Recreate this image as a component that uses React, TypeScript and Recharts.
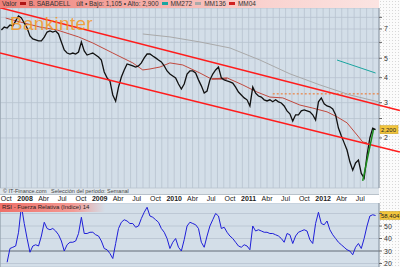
import React from 'react';
import { ComposedChart, Line, XAxis, YAxis, CartesianGrid, ReferenceLine } from 'recharts';

// weekly bars, first bar on 7 Sep 2007; one point every 2 weeks
const FIRST_BAR = Date.UTC(2007, 8, 7);
const WEEK = 7 * 24 * 3600 * 1000;

const closes = [
  6.92, 7.16, 7.08, 7.33, 7.25, 7.68, 8.13, 7.95, 7.5, 7.08,
  6.46, 6.24, 6.17, 6.1, 6.1, 6.38, 6.76, 6.84, 6.76, 6.84,
  6.61, 6.03, 5.5, 5.31, 5.25, 5.31, 5.25, 5.37, 6.03, 5.44,
  5.19, 5.25, 5.31, 5.19, 5.07, 4.9, 4.27, 3.99, 3.85, 3.28,
  3.05, 3.59, 4.03, 4.37, 4.68, 4.63, 4.58, 4.52, 4.58, 4.74,
  5.02, 5.25, 5.25, 5.13, 5.02, 4.9, 4.79, 4.58, 4.32, 4.17,
  4.08, 3.99, 3.72, 3.51, 3.72, 4.17, 4.32, 4.32, 4.22, 3.9,
  3.64, 3.35, 3.43, 3.9, 4.17, 4.37, 4.52, 3.99, 3.9, 3.85,
  3.81, 3.76, 3.59, 3.39, 3.28, 3.17, 3.1, 2.89, 3.59, 3.35,
  3.24, 3.2, 3.1, 3.06, 3.1, 3.03, 3.1, 3.03, 2.99, 2.89,
  2.73, 2.64, 2.43, 2.61, 2.61, 2.73, 2.76, 2.73, 2.7, 2.61,
  2.46, 3.03, 3.17, 2.96, 2.89, 2.86, 2.79, 2.61, 2.24, 2.05,
  1.89, 1.74, 1.52, 1.38, 1.5, 1.55, 1.33, 1.26, 1.64, 2.0,
  2.24, 2.2,
];

const rsi14 = [
  null, null, 21, 32, 33, 34, 45, 66, 52, 40,
  29, 34, 35, 34, 42, 53, 48, 47, 48, 46,
  43, 38, 30, 35, 37, 37, 38, 44, 57, 44,
  44, 45, 45, 43, 42, 38, 32, 31, 28, 24,
  36, 48, 53, 55, 54, 52, 52, 49, 50, 56,
  61, 65, 58, 57, 55, 53, 48, 45, 40, 32,
  37, 40, 33, 30, 39, 50, 53, 52, 51, 48,
  37, 33, 42, 50, 55, 60, 58, 48, 49, 45,
  42, 40, 37, 34, 33, 35, 34, 31, 50, 46,
  47, 46, 45, 45, 44, 44, 43, 42, 40, 37,
  44, 43, 36, 42, 45, 46, 47, 46, 39, 36,
  52, 61, 52, 51, 54, 47, 43, 40, 37, 35,
  33, 31, 30, 27, 33, 36, 32, 40, 50, 58,
  59, 58.4,
];

// moving averages, read at a few weeks
const mmRedWeeks = [3, 13, 27, 39, 54, 64, 78, 92, 99, 104, 111, 118, 127, 139, 147, 158, 169, 179, 188, 197, 209, 218, 228, 235, 242, 249, 253, 256];
const mmRedValues = [7.94, 7.59, 7.16, 6.92, 6.39, 5.96, 5.31, 4.74, 4.37, 4.42, 4.52, 4.74, 4.63, 4.22, 3.94, 3.99, 3.68, 3.39, 3.2, 3.17, 2.92, 2.82, 2.7, 2.55, 2.38, 2.07, 1.91, 1.89];
const mmGrayWeeks = [99, 118, 139, 160, 181, 202, 223, 244, 264];
const mmGrayValues = [6.61, 6.39, 6.03, 5.63, 4.9, 4.18, 3.68, 3.28, 3.03];
const mmTealWeeks = [235, 262];
const mmTealValues = [4.9, 4.22];

// drawn trend lines: [week, price]
const upperChannel = [[-1, 8.95], [279, 2.74]];
const lowerChannel = [[-1, 5.31], [279, 1.7]];
const greenTrend = [[253, 1.22], [260.5, 2.2]];
const dottedLevel = [[190, 3.32], [264.4, 3.32]];
const shortLevel = [[147.5, 3.94], [158, 3.94]];

const priceTicks = [2, 3, 4, 5, 7];
const priceGrid = [2, 2.5, 3, 4, 5, 6, 7, 8];
const rsiTicks = [20, 30, 40, 50];
const rsiGrid = [20, 30, 40, 50, 60];
const quarterNames: Record<number, string> = { 3: 'Abr', 6: 'Jul', 9: 'Oct' };

const X_DOMAIN = [-0.98, 264.4];
const FONT = '"Liberation Sans", Arial, sans-serif';

const weekOf = (y: number, m: number) => (Date.UTC(y, m, 1) - FIRST_BAR) / WEEK;
const months: { w: number; y: number; m: number }[] = [];
for (let y = 2007; y <= 2012; y++) {
  for (let m = 0; m < 12; m++) {
    const w = weekOf(y, m);
    if (w >= X_DOMAIN[0] && w <= X_DOMAIN[1]) months.push({ w, y, m });
  }
}
const monthWeeks = months.map((d) => d.w);
const yearWeeks = months.filter((d) => d.m === 0).map((d) => d.w);

const rowMap = new Map<number, any>();
const put = (w: number, key: string, v: number) => {
  const r = rowMap.get(w) ?? { w };
  r[key] = v;
  rowMap.set(w, r);
};
closes.forEach((v, i) => put(i * 2, 'close', v));
mmRedWeeks.forEach((w, i) => put(w, 'mmRed', mmRedValues[i]));
mmGrayWeeks.forEach((w, i) => put(w, 'mmGray', mmGrayValues[i]));
mmTealWeeks.forEach((w, i) => put(w, 'mmTeal', mmTealValues[i]));
const priceRows = [...rowMap.values()].sort((a, b) => a.w - b.w);
const rsiRows = rsi14.map((v, i) => ({ w: i * 2, rsi: v }));

const seg = (p: number[][]) => p.map(([x, y]) => ({ x, y }));

const XTick = ({ x, payload }: any) => {
  const d = months.find((mm) => Math.abs(mm.w - payload.value) < 1e-6);
  if (!d || d.m % 3 !== 0) return <g />;
  const isYear = d.m === 0;
  return (
    <text x={x} y={201} textAnchor="middle" fontSize={7} fontFamily={FONT}
      fontWeight={isYear ? 'bold' : 'normal'} fill="#222">
      {isYear ? d.y : quarterNames[d.m]}
    </text>
  );
};

const makeYTick = (shown: number[]) => ({ x, y, payload }: any) =>
  shown.includes(payload.value) ? (
    <text x={x} y={y} dy={2.5} fontSize={7} fontFamily={FONT} fill="#333">{payload.value}</text>
  ) : <g />;

const valueBox = (text: string, w: number) => ({ viewBox }: any) => {
  if (!viewBox) return null;
  const x0 = viewBox.x + viewBox.width;
  return (
    <g>
      <rect x={x0 + 1} y={viewBox.y - 4} width={w} height={8} fill="#f2c53d" stroke="#c89a10" strokeWidth={0.5} />
      <text x={x0 + 2} y={viewBox.y + 2.2} fontSize={6} fontFamily={FONT} fill="#222">{text}</text>
    </g>
  );
};

const swatch = (color: string) => (
  <span style={{ display: 'inline-block', width: 6, height: 3, background: color, margin: '0 3px 1px 3px', verticalAlign: 'middle' }} />
);

export default function App() {
  const dots = {
    backgroundColor: '#fbfbfb',
    backgroundImage: 'radial-gradient(#d8d8d8 0.6px, transparent 0.7px)',
    backgroundSize: '3px 3px',
  };
  return (
    <div style={{ position: 'absolute', left: 0, top: 0, width: 400, height: 267, overflow: 'hidden', background: '#fff', fontFamily: FONT }}>
      <div style={{ position: 'absolute', left: 379, top: 0, width: 21, height: 267, ...dots }} />
      <div style={{ position: 'absolute', left: 0, top: 188, width: 379, height: 6, background: '#dfe6ec' }} />
      <div style={{ position: 'absolute', left: 0, top: 194, width: 379, height: 9, background: '#fff', borderTop: '1px solid #b9c2ca' }} />

      <div style={{ position: 'absolute', left: 0, top: 0 }}>
        <ComposedChart width={400} height={203} data={priceRows} margin={{ top: 8, right: 0, bottom: 0, left: 0 }}>
          <CartesianGrid xAxisId="m" yAxisId="p" fill="#d3dee8" fillOpacity={1} stroke="#b7c3cf" strokeWidth={0.8} />
          <CartesianGrid xAxisId="yr" yAxisId="p" horizontal={false} stroke="#86929e" strokeWidth={0.9} />
          <XAxis xAxisId="m" dataKey="w" type="number" domain={X_DOMAIN} allowDataOverflow ticks={monthWeeks}
            interval={0} tick={<XTick />} tickLine={false} axisLine={false} height={15} />
          <XAxis xAxisId="yr" dataKey="w" type="number" domain={X_DOMAIN} allowDataOverflow ticks={yearWeeks}
            interval={0} tick={false} tickLine={false} axisLine={false} height={0} />
          <YAxis yAxisId="p" orientation="right" scale="log" domain={[1.125, 8.91]} allowDataOverflow
            ticks={priceGrid} interval={0} width={21} tick={makeYTick(priceTicks)} tickSize={3} tickMargin={2}
            tickLine={{ stroke: '#666' }} axisLine={false} />

          <ReferenceLine xAxisId="m" yAxisId="p" segment={seg(shortLevel)} stroke="#a01818" strokeWidth={1} />
          <ReferenceLine xAxisId="m" yAxisId="p" segment={seg(dottedLevel)} stroke="#f07020" strokeWidth={1} strokeDasharray="2 2" />

          <Line xAxisId="m" yAxisId="p" dataKey="mmGray" stroke="#a9a9a9" strokeWidth={1} dot={false} connectNulls isAnimationActive={false} />
          <Line xAxisId="m" yAxisId="p" dataKey="mmTeal" stroke="#1aa5a0" strokeWidth={1} dot={false} connectNulls isAnimationActive={false} />
          <Line xAxisId="m" yAxisId="p" dataKey="mmRed" stroke="#c0392b" strokeWidth={0.9} dot={false} connectNulls isAnimationActive={false} />
          <Line xAxisId="m" yAxisId="p" dataKey="close" stroke="#111" strokeWidth={1.3} dot={false} connectNulls isAnimationActive={false} />

          <ReferenceLine xAxisId="m" yAxisId="p" segment={seg(upperChannel)} stroke="#ff1c1c" strokeWidth={1.5} ifOverflow="visible" />
          <ReferenceLine xAxisId="m" yAxisId="p" segment={seg(lowerChannel)} stroke="#ff1c1c" strokeWidth={1.5} ifOverflow="visible" />
          <ReferenceLine xAxisId="m" yAxisId="p" segment={seg(greenTrend)} stroke="#1b8c1b" strokeWidth={1.5} />
          <ReferenceLine xAxisId="m" yAxisId="p" y={closes[closes.length - 1]} stroke="none"
            label={valueBox('2,200', 18)} />
        </ComposedChart>
      </div>

      <div style={{ position: 'absolute', left: 0, top: 203 }}>
        <ComposedChart width={400} height={64} data={rsiRows} margin={{ top: 0, right: 0, bottom: 0, left: 0 }}>
          <CartesianGrid xAxisId="m" yAxisId="r" fill="#d3dee8" fillOpacity={1} stroke="#b7c3cf" strokeWidth={0.8} />
          <CartesianGrid xAxisId="yr" yAxisId="r" horizontal={false} stroke="#86929e" strokeWidth={0.9} />
          <XAxis xAxisId="m" dataKey="w" type="number" domain={X_DOMAIN} allowDataOverflow ticks={monthWeeks}
            interval={0} tick={false} tickLine={false} axisLine={false} height={0} />
          <XAxis xAxisId="yr" dataKey="w" type="number" domain={X_DOMAIN} allowDataOverflow ticks={yearWeeks}
            interval={0} tick={false} tickLine={false} axisLine={false} height={0} />
          <YAxis yAxisId="r" orientation="right" domain={[17.2, 68.4]} allowDataOverflow ticks={rsiGrid} interval={0}
            width={21} tick={makeYTick(rsiTicks)} tickSize={3} tickMargin={2} tickLine={{ stroke: '#666' }} axisLine={false} />
          <ReferenceLine xAxisId="m" yAxisId="r" y={30} stroke="#6f7780" strokeWidth={1} />
          <Line xAxisId="m" yAxisId="r" dataKey="rsi" stroke="#1f1fd8" strokeWidth={1} dot={false} isAnimationActive={false} />
          <ReferenceLine xAxisId="m" yAxisId="r" y={rsi14[rsi14.length - 1]} stroke="none" label={valueBox('58,404', 20)} />
        </ComposedChart>
      </div>

      <div style={{ position: 'absolute', left: 0, top: 0, width: 379, height: 8, background: 'linear-gradient(to right, #ef8078, #f5aaa4 35%, #f9d2cf 70%, #fbe4e2)', fontSize: 6.5, lineHeight: '8px', color: '#333', whiteSpace: 'nowrap' }}>
        <span style={{ marginLeft: 2 }}>Valor</span>
        {swatch('#b01515')}B. SABADELL
        <span style={{ marginLeft: 6 }}>últ • Bajo: 1,105 • Alto: 2,900</span>
        {swatch('#1aa5a0')}MM272
        {swatch('#a9a9a9')}MM136
        {swatch('#d02020')}MM04
      </div>

      <div style={{ position: 'absolute', left: 10, top: 13, fontSize: 19, color: 'rgba(245,150,30,0.85)', letterSpacing: 0.3 }}>Bankinter</div>

      <div style={{ position: 'absolute', left: 3, top: 188, fontSize: 5.5, lineHeight: '6px', color: '#444', whiteSpace: 'nowrap' }}>
        © IT-Finance.com&nbsp;&nbsp; Selección del período: Semanal
      </div>

      <div style={{ position: 'absolute', left: 0, top: 203, width: 105, height: 9, background: 'linear-gradient(to right, #ee6f68, #f39a94 70%, rgba(246,180,176,0))', fontSize: 6, lineHeight: '9px', color: '#222', whiteSpace: 'nowrap' }}>
        <span style={{ marginLeft: 2 }}>RSI - Fuerza Relativa (Indice) 14</span>
      </div>
    </div>
  );
}
